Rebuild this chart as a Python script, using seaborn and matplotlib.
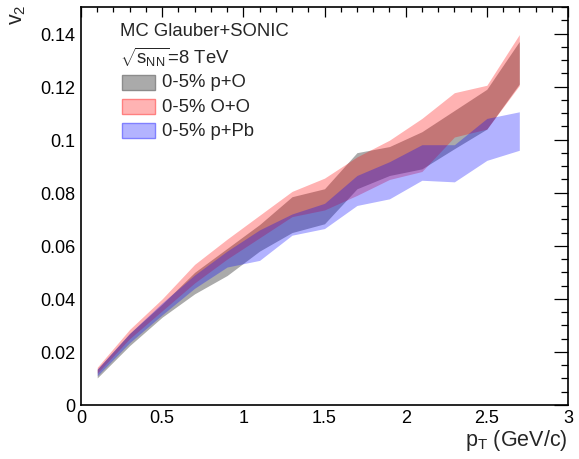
import numpy as np
import pandas as pd
import matplotlib
matplotlib.use("Agg")
import matplotlib.pyplot as plt
import seaborn as sns
from matplotlib.ticker import MultipleLocator, FuncFormatter

pt = [0.1, 0.3, 0.5, 0.7, 0.9, 1.1, 1.3, 1.5, 1.7, 1.9, 2.1, 2.3, 2.5, 2.7]

pO_hi = [0.0135, 0.0270, 0.0380, 0.0500, 0.0590, 0.0680, 0.0785, 0.0815, 0.0951, 0.0974, 0.1030, 0.1110, 0.1190, 0.1370]
pO_lo = [0.0102, 0.0224, 0.0331, 0.0419, 0.0488, 0.0580, 0.0650, 0.0683, 0.0815, 0.0865, 0.0890, 0.0966, 0.1040, 0.1210]

OO_hi = [0.0142, 0.0285, 0.0400, 0.0530, 0.0625, 0.0715, 0.0805, 0.0855, 0.0935, 0.0998, 0.1080, 0.1177, 0.1205, 0.1396]
OO_lo = [0.0120, 0.0250, 0.0355, 0.0460, 0.0550, 0.0630, 0.0710, 0.0735, 0.0790, 0.0850, 0.0880, 0.1010, 0.1040, 0.1204]

pPb_hi = [0.0135, 0.0270, 0.0385, 0.0490, 0.0580, 0.0660, 0.0720, 0.0760, 0.0865, 0.0917, 0.0981, 0.0981, 0.1080, 0.1105]
pPb_lo = [0.0110, 0.0235, 0.0340, 0.0440, 0.0520, 0.0545, 0.0640, 0.0665, 0.0752, 0.0777, 0.0847, 0.0841, 0.0922, 0.0960]

labels = ["0-5% p+O", "0-5% O+O", "0-5% p+Pb"]

sns.set_theme(style="white")
plt.rcParams['font.family'] = ['Liberation Sans', 'DejaVu Sans']
plt.rcParams['mathtext.fontset'] = 'custom'
plt.rcParams['mathtext.rm'] = 'Liberation Sans'
plt.rcParams['mathtext.it'] = 'Liberation Sans'

fig = plt.figure(figsize=(5.79, 4.60), dpi=100)
ax = fig.add_axes([81/579, 1-406/460, (568-81)/579, (406-8)/460])

series = [
    (labels[0], pO_lo, pO_hi, (170/255, 170/255, 170/255), 1.0, (0.55, 0.55, 0.55)),
    (labels[1], OO_lo, OO_hi, (1.0, 0.0, 0.0), 0.3, (1.0, 0.5, 0.5)),
    (labels[2], pPb_lo, pPb_hi, (0.0, 0.0, 1.0), 0.3, (0.5, 0.5, 1.0)),
]

frames = []
for name, lo, hi, *_ in series:
    frames.append(pd.DataFrame({"pt": pt, "v2": (np.array(lo) + np.array(hi)) / 2,
                                "lo": lo, "hi": hi, "sys": name}))
df = pd.concat(frames, ignore_index=True)

for name, lo, hi, col, a, ec in series:
    sub = df[df["sys"] == name]
    sns.lineplot(data=sub, x="pt", y="v2", ax=ax, lw=0, legend=False)
    ax.fill_between(sub["pt"], sub["lo"], sub["hi"], color=col, alpha=a, lw=0)

ax.set_xlim(0, 3)
ax.set_ylim(0, 0.150)
ax.xaxis.set_major_locator(MultipleLocator(0.5))
ax.xaxis.set_minor_locator(MultipleLocator(0.1))
ax.yaxis.set_major_locator(MultipleLocator(0.02))
ax.yaxis.set_minor_locator(MultipleLocator(0.005))
ax.xaxis.set_major_formatter(FuncFormatter(lambda v, p: "%g" % round(v, 4)))
ax.yaxis.set_major_formatter(FuncFormatter(lambda v, p: "%g" % round(v, 4)))
ax.tick_params(axis='both', which='both', direction='in', top=True, right=True,
               labelsize=13, colors='black', width=0.9)
ax.tick_params(axis='x', which='major', length=7.5, pad=3)
ax.tick_params(axis='x', which='minor', length=3.7)
ax.tick_params(axis='y', which='major', length=10, pad=4)
ax.tick_params(axis='y', which='minor', length=5)
for s in ax.spines.values():
    s.set_color('black')
    s.set_linewidth(1.2)
ax.set_xlabel("")
ax.set_ylabel("")

fig.text(568/579, 1-441/460, r"p$_\mathregular{T}$ (GeV/c)", ha='right', va='center', fontsize=15.5)
fig.text(17/579, 1-4/460, r"v$_\mathregular{2}$", ha='center', va='top', rotation=90, fontsize=15.5)

# header texts
fig.text(120/579, 1-32/460, "MC Glauber+SONIC", fontsize=13.3, ha='left', va='center')
fig.text(120/579, 1-57/460, r"$\sqrt{s_{\mathregular{NN}}}$=8 TeV", fontsize=13.3,
         ha='left', va='center')

# legend boxes
box_w, box_h = 33, 15
for i, (name, lo, hi, col, a, ec) in enumerate(series):
    yc = 83 + i * 24.3
    fc = tuple(1 - a * (1 - c) for c in col) if a < 1 else col
    rect = plt.Rectangle((122/579, 1-(yc+box_h/2)/460), box_w/579, box_h/460,
                         transform=fig.transFigure, facecolor=fc, edgecolor=ec, lw=1.0)
    fig.patches.append(rect)
    fig.text(162/579, 1-yc/460, name, fontsize=13.3, ha='left', va='center')

fig.savefig("out.png", dpi=100)
